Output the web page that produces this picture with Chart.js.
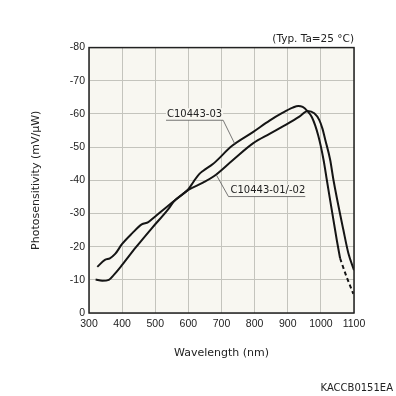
<!DOCTYPE html>
<html>
<head>
<meta charset="utf-8">
<script src="https://cdn.jsdelivr.net/npm/chart.js@4/dist/chart.umd.min.js"></script>
<style>
  html, body { margin: 0; padding: 0; background: #fff; }
</style>
</head>
<body>
<canvas id="chart" width="396" height="396"></canvas>
<script>
// C10443-03 (solid part + dashed tail)
var wl03 = [320, 340, 360, 375, 400, 440, 490, 540, 556, 600, 615, 632, 645, 674, 732, 796, 845, 885, 915, 932, 945, 958, 973, 992, 1008, 1018, 1048, 1058];
var ps03 = [-10.1, -9.7, -10.0, -11.5, -14.5, -19.6, -25.6, -31.4, -33.6, -37.3, -39.5, -41.8, -42.9, -44.9, -50.4, -54.6, -58.0, -60.4, -61.9, -62.4, -62.1, -61.0, -59.0, -53.5, -46.2, -40.1, -22.0, -16.5];
var wl03tail = [1058, 1078, 1098];
var ps03tail = [-16.5, -10.8, -5.8];

// C10443-01/-02
var wl01 = [325, 348, 363, 379, 400, 430, 459, 479, 500, 530, 570, 600, 644, 678, 732, 796, 845, 895, 935, 960, 980, 995, 1005, 1013, 1028, 1038, 1068, 1083, 1100];
var ps01 = [-13.9, -16.0, -16.5, -17.8, -20.8, -24.0, -26.7, -27.4, -29.1, -31.6, -34.8, -37.1, -39.3, -41.3, -45.9, -51.2, -54.0, -56.8, -59.2, -60.9, -60.2, -58.2, -55.5, -52.3, -46.2, -40.1, -25.0, -18.0, -12.9];

var xTicks = [300, 400, 500, 600, 700, 800, 900, 1000, 1100];
var yTicks = [-80, -70, -60, -50, -40, -30, -20, -10, 0];

function pts(xs, ys) {
    return xs.map(function (x, i) { return { x: x, y: ys[i] }; });
}

// labels with leader lines, positions in data units
var callouts = [
    { text: 'C10443-03', elbow: { x: 705, y: -58.1 }, anchor: { x: 740, y: -51.0 }, side: 'left' },
    { text: 'C10443-01/-02', elbow: { x: 721, y: -35.1 }, anchor: { x: 684, y: -41.7 }, side: 'right' }
];

var decor = {
    id: 'decor',
    beforeDraw: function (chart) {
        var a = chart.chartArea, ctx = chart.ctx;
        ctx.save();
        ctx.fillStyle = '#f8f7f1';
        ctx.fillRect(a.left, a.top, a.right - a.left, a.bottom - a.top);
        ctx.restore();
    },
    afterDraw: function (chart) {
        var a = chart.chartArea, ctx = chart.ctx;
        var xs = chart.scales.x, ys = chart.scales.y;
        ctx.save();
        ctx.strokeStyle = '#222';
        ctx.lineWidth = 1.5;
        ctx.strokeRect(a.left, a.top, a.right - a.left, a.bottom - a.top);

        ctx.font = '10px "DejaVu Sans"';
        ctx.lineWidth = 0.8;
        ctx.strokeStyle = '#555';
        callouts.forEach(function (c) {
            var ex = xs.getPixelForValue(c.elbow.x), ey = ys.getPixelForValue(c.elbow.y);
            var ax = xs.getPixelForValue(c.anchor.x), ay = ys.getPixelForValue(c.anchor.y);
            var w = ctx.measureText(c.text).width;
            var x0 = c.side === 'left' ? ex - w - 2 : ex;
            var x1 = c.side === 'left' ? ex : ex + w + 2;
            ctx.fillStyle = '#f8f7f1';
            ctx.fillRect(x0, ey - 12, x1 - x0, 12);
            ctx.fillStyle = '#222';
            ctx.textBaseline = 'bottom';
            ctx.textAlign = 'left';
            ctx.fillText(c.text, c.side === 'left' ? x0 + 1 : ex + 2, ey - 1);
            ctx.beginPath();
            ctx.moveTo(x0, ey);
            ctx.lineTo(x1, ey);
            ctx.moveTo(ex, ey);
            ctx.lineTo(ax, ay);
            ctx.stroke();
        });

        ctx.font = '10px "DejaVu Sans"';
        ctx.textAlign = 'right';
        ctx.textBaseline = 'middle';
        ctx.fillStyle = '#222';
        ctx.fillText('KACCB0151EA', chart.width - 3, chart.height - 8);
        ctx.restore();
    }
};

new Chart(document.getElementById('chart'), {
    type: 'line',
    data: {
        datasets: [
            { label: 'C10443-03', data: pts(wl03, ps03) },
            { label: 'C10443-03 tail', data: pts(wl03tail, ps03tail), borderDash: [4, 3] },
            { label: 'C10443-01/-02', data: pts(wl01, ps01) }
        ]
    },
    options: {
        responsive: false,
        animation: false,
        layout: { padding: { top: 33, right: 42, bottom: 0, left: 0 } },
        elements: {
            point: { radius: 0 },
            line: { borderColor: '#151515', borderWidth: 2, cubicInterpolationMode: 'monotone' }
        },
        plugins: {
            legend: { display: false },
            tooltip: { enabled: false },
            title: {
                display: true,
                text: '(Typ. Ta=25 °C)',
                align: 'end',
                fullSize: false,
                color: '#222',
                font: { family: 'DejaVu Sans', size: 10.5, weight: 'normal' },
                padding: { top: 0, bottom: 2 }
            }
        },
        scales: {
            x: {
                type: 'linear',
                min: 300,
                max: 1100,
                afterBuildTicks: function (s) { s.ticks = xTicks.map(function (v) { return { value: v }; }); },
                afterFit: function (s) { s.height = 83; },
                grid: { color: '#c4c4bd', lineWidth: 1, drawTicks: false },
                border: { display: false },
                ticks: {
                    color: '#222', padding: 5, maxRotation: 0,
                    font: { family: 'Liberation Sans', size: 10.5 },
                    callback: function (v) { return String(v); }
                },
                title: {
                    display: true,
                    text: 'Wavelength (nm)',
                    color: '#222',
                    font: { family: 'DejaVu Sans', size: 11 },
                    padding: { top: 0, bottom: 36 }
                }
            },
            y: {
                type: 'linear',
                min: -80,
                max: 0,
                reverse: true,
                afterBuildTicks: function (s) { s.ticks = yTicks.map(function (v) { return { value: v }; }); },
                afterFit: function (s) { s.width = 89; },
                grid: { color: '#c4c4bd', lineWidth: 1, drawTicks: false },
                border: { display: false },
                ticks: {
                    color: '#222', padding: 4,
                    font: { family: 'Liberation Sans', size: 10.5 },
                    callback: function (v) { return String(v); }
                },
                title: {
                    display: true,
                    text: 'Photosensitivity (mV/μW)',
                    color: '#222',
                    font: { family: 'DejaVu Sans', size: 11 },
                    padding: { top: 30, bottom: 0 }
                }
            }
        }
    },
    plugins: [decor]
});
</script>
</body>
</html>
